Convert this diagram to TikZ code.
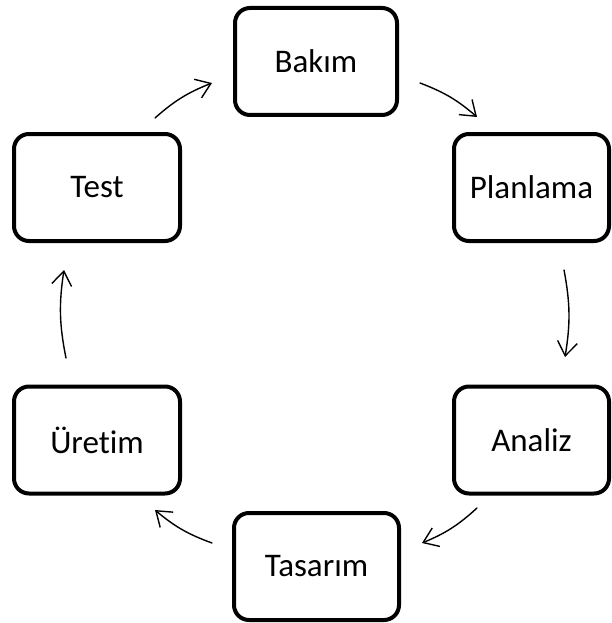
\documentclass[tikz,border=0pt]{standalone}
\usepackage{fontspec}
\setmainfont{Carlito}[Ligatures=NoCommon]
\usetikzlibrary{arrows.meta}
\begin{document}
\begin{tikzpicture}[x=1pt,y=-1pt,
  stage/.style={draw=black, line width=4pt, rounded corners=15pt,
    minimum height=107pt, inner sep=0pt, fill=white,
    font=\fontsize{33}{40}\selectfont},
  flow/.style={line width=1.4pt, line cap=round,
    -{Straight Barb[length=14pt,width=20pt]}, bend left=10}]
\useasboundingbox (0,0) rectangle (611,623);

% the six stages of the cycle
\node[stage, minimum width=162pt] (bakim)    at (316,61.5)  {Bakım};
\node[stage, minimum width=155pt] (planlama) at (531.5,187.5) {Planlama};
\node[stage, minimum width=155pt] (analiz)   at (531.5,440) {Analiz};
\node[stage, minimum width=165pt] (tasarim)  at (316.5,566.5) {Tasarım};
\node[stage, minimum width=166pt] (uretim)   at (97,440)    {Üretim};
\node[stage, minimum width=166pt] (test)     at (97,187.5)  {Test};

% free ends of the arrows between the stages
\coordinate (tb1) at (155,118); \coordinate (tb2) at (212,83);
\coordinate (bp1) at (420,83);  \coordinate (bp2) at (477,117);
\coordinate (pa1) at (564,270); \coordinate (pa2) at (565,357);
\coordinate (at1) at (477,508); \coordinate (at2) at (422,543);
\coordinate (tu1) at (212,543); \coordinate (tu2) at (155,510);
\coordinate (ut1) at (66,358);  \coordinate (ut2) at (64,270);

\draw[flow] (tb1) to (tb2);
\draw[flow] (bp1) to (bp2);
\draw[flow] (pa1) to (pa2);
\draw[flow] (at1) to (at2);
\draw[flow] (tu1) to (tu2);
\draw[flow] (ut1) to (ut2);
\end{tikzpicture}
\end{document}
